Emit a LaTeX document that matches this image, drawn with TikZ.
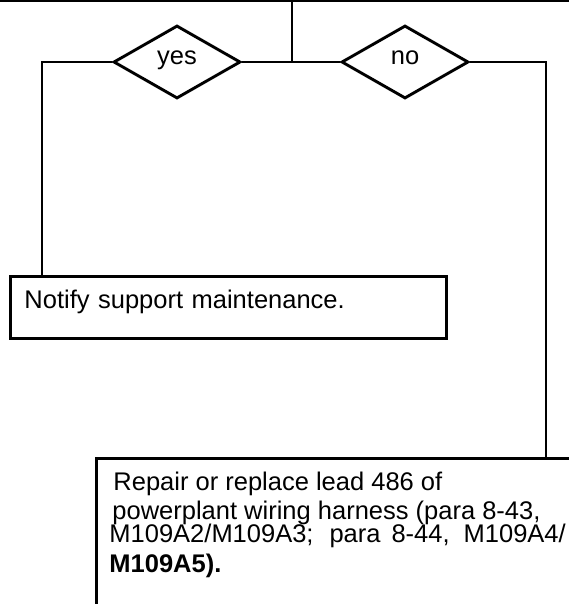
\documentclass[tikz,border=0pt]{standalone}
\usepackage{fontspec}
\setmainfont{Liberation Sans}
\usetikzlibrary{shapes.geometric,positioning}

\begin{document}
\begin{tikzpicture}[x=1pt,y=-1pt,line width=2.9pt,
  txt/.style={font=\fontsize{25.5}{23}\selectfont,inner sep=0pt},
  choice/.style={draw,diamond,txt,text height=0.52em,text depth=0pt,minimum width=127pt,minimum height=73pt},
  action/.style={draw,rectangle,txt,anchor=north west,align=left}]
  \useasboundingbox (0,0) rectangle (569,604);
  \clip (0,0) rectangle (569,604);
  % line coming down from the step above
  \draw (0,1) -- (569,1);
  \coordinate (top) at (292,1);
  \node[choice] (yes) at (177,62) {yes};
  \node[choice] (no) at (405,62) {no};
  \draw (top) -- (top |- yes.east);
  \draw (yes.east) -- (no.west);
  % yes branch
  \node[action,inner xsep=14pt,text width=408pt,text height=32pt,text depth=30pt] (notify) at (9,275) {Notify support maintenance.};
  \draw (yes.west) -| ([xshift=33pt]notify.north west);
  % no branch (box runs off the page)
  \node[action,minimum width=520pt,minimum height=200pt] (repair) at (95,457) {};
  \draw (no.east) -| ([xshift=451pt]repair.north west);
  \node[txt,anchor=base west] (rep1) at (112,490) {Repair or replace lead 486 of};
  \node[txt,anchor=base west] (rep2) at (111,519) {powerplant wiring harness (para 8-43,};
  \node[txt,anchor=base west] (rep3) at (108,542) {M109A2/M109A3;\hspace{16pt}para\hspace{11pt}8-44,\hspace{14pt}M109A4/};
  \node[txt,anchor=base west] (rep4) at (108,572) {\bfseries M109A5).};
\end{tikzpicture}
\end{document}
